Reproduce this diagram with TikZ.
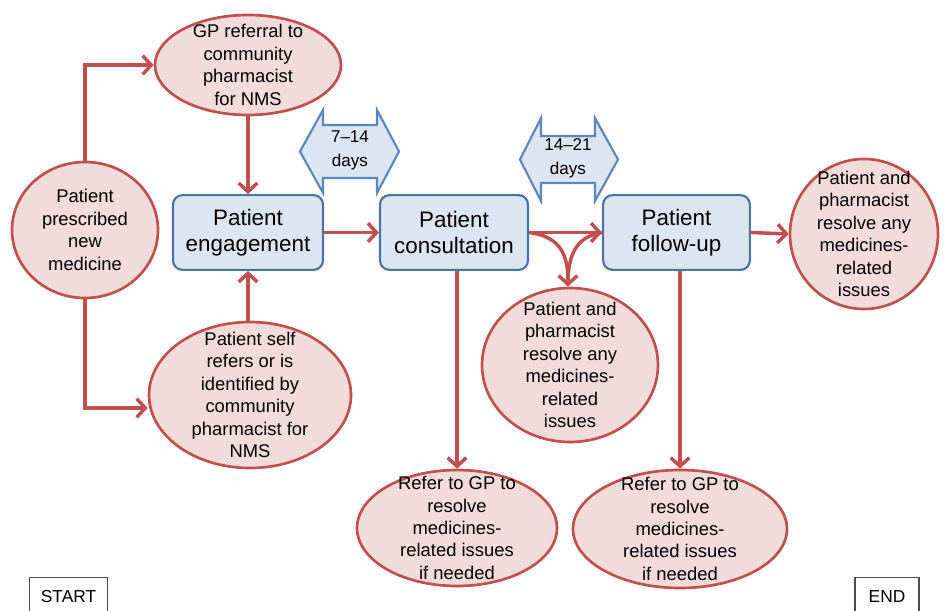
\documentclass[tikz,border=0pt]{standalone}
\usepackage{fontspec}
\setmainfont{Liberation Sans}
\usetikzlibrary{shapes.geometric,arrows.meta}
\definecolor{redline}{HTML}{C0504D}
\definecolor{pinkfill}{HTML}{F2DCDB}
\definecolor{bluefill}{HTML}{DCE6F2}
\definecolor{blueline}{HTML}{4A72A8}
\definecolor{darrline}{HTML}{5B86BE}
\tikzset{
  ell/.style={ellipse, draw=redline, fill=pinkfill, line width=2pt, inner sep=0pt},
  etext/.style={align=center, inner sep=0pt, font=\fontsize{13.8}{16.8}\selectfont},
  stage/.style={rounded corners=7pt, draw=blueline, fill=bluefill, line width=1.6pt, inner sep=0pt, align=center,
    minimum height=56pt, font=\fontsize{16.8}{19.5}\selectfont},
  darr/.style={draw=darrline, fill=bluefill, line width=1.6pt, line join=miter},
  dtext/.style={align=center, font=\fontsize{12.8}{18}\selectfont},
  conn/.style={draw=redline, line width=2.6pt, -{Straight Barb[length=6.5pt,width=14pt]}},
  endbox/.style={draw=black!70, line width=0.8pt, minimum width=59pt, minimum height=29pt, inner sep=0pt,
    font=\fontsize{13}{15}\selectfont}
}
\begin{document}
\begin{tikzpicture}[x=0.75pt,y=-0.75pt]
\useasboundingbox (0,0) rectangle (945,610);
\clip (0,0) rectangle (945,610);
% double arrows
\draw[darr] (300,151.5) -- (323,110) -- (323,125) -- (377,125) -- (377,110) -- (399,151.5)
  -- (377,193) -- (377,178) -- (323,178) -- (323,193) -- cycle;
\node[dtext] (d1) at (350,150) {7–14\\days};
\draw[darr] (520,159.5) -- (541,118) -- (541,136) -- (595,136) -- (595,118) -- (618,159.5)
  -- (595,201) -- (595,183) -- (541,183) -- (541,201) -- cycle;
\node[dtext] (d2) at (568,158) {14–21\\days};
% ellipses
\node[ell, minimum width=109.5pt, minimum height=102pt] (pres) at (85,230) {};
\node[etext] (prest) at (pres.center) {Patient\\prescribed\\new\\medicine};
\node[ell, minimum width=139.5pt, minimum height=75pt] (gp) at (248,65) {};
\node[etext] (gpt) at (gp.center) {GP referral to\\community\\pharmacist\\for NMS};
\node[ell, minimum width=151.5pt, minimum height=109.5pt] (self) at (250,395) {};
\node[etext] (selft) at (self.center) {Patient self\\refers or is\\identified by\\community\\pharmacist for\\NMS};
\node[ell, minimum width=132pt, minimum height=115.5pt] (mid) at (570,365) {};
\node[etext] (midt) at (mid.center) {Patient and\\pharmacist\\resolve any\\medicines-\\related\\issues};
\node[ell, minimum width=111pt, minimum height=112.5pt] (right) at (864,234) {};
\node[etext] (rightt) at (right.center) {Patient and\\pharmacist\\resolve any\\medicines-\\related\\issues};
\node[ell, minimum width=150pt, minimum height=87pt] (ref1) at (457,528) {};
\node[etext] (ref1t) at (ref1.center) {Refer to GP to\\resolve\\medicines-\\related issues\\if needed};
\node[ell, minimum width=160.5pt, minimum height=88.5pt] (ref2) at (680,529) {};
\node[etext] (ref2t) at (ref2.center) {Refer to GP to\\resolve\\medicines-\\related issues\\if needed};
% stage boxes
\node[stage, minimum width=112.5pt] (eng) at (248,232.5) {Patient\\engagement};
\node[stage, minimum width=111pt] (cons) at (454,232.5) {Patient\\consultation};
\node[stage, minimum width=110pt] (fol) at (676.5,232.5) {Patient\\follow-up};
% connectors
\draw[conn] (pres.north) |- (gp.west);
\draw[conn] (pres.south) |- (self.west |- 0,408);
\draw[conn] (gp.south -| eng.north) -- (eng.north);
\draw[conn] (self.north -| eng.south) -- (eng.south);
\draw[conn] (eng.east) -- (cons.west);
\draw[conn] (cons.east) -- (fol.west);
\draw[conn] (fol.east) -- (right.west);
\draw[draw=redline, line width=2.6pt] (cons.east) .. controls (556,236) and (568,250) .. (568,280);
\draw[conn] (fol.west) .. controls (580,236) and (568,250) .. (mid.north -| 568,0);
\draw[conn] (ref1.north |- cons.south) -- (ref1.north);
\draw[conn] (ref2.north |- fol.south) -- (ref2.north);
% start / end
\node[endbox] (start) at (68.5,597) {START};
\node[endbox, minimum width=48pt] (end) at (887,597) {END};
\end{tikzpicture}
\end{document}
